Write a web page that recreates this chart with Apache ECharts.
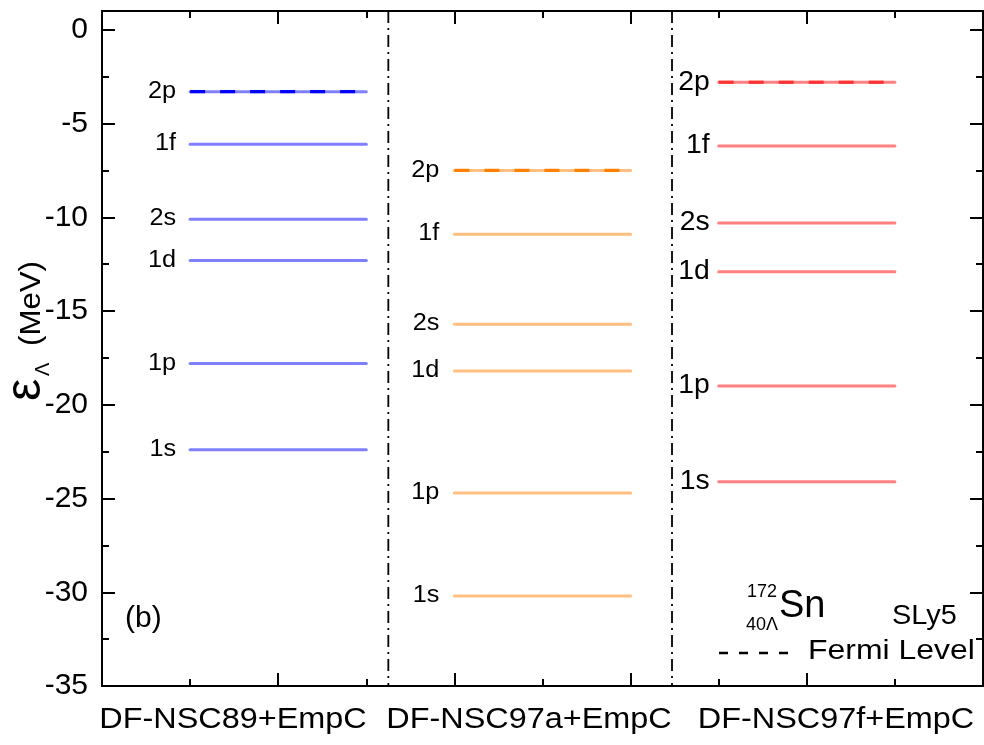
<!DOCTYPE html>
<html>
<head>
<meta charset="utf-8">
<script src="https://cdn.jsdelivr.net/npm/echarts@6/dist/echarts.min.js"></script>
<style>
html,body{margin:0;padding:0;background:#fff;}
#chart{width:984px;height:745px;}
</style>
</head>
<body>
<div id="chart"></div>
<script>
// ---- data ----
const models = ['DF-NSC89+EmpC', 'DF-NSC97a+EmpC', 'DF-NSC97f+EmpC'];
const levelNames = ['1s', '1p', '1d', '2s', '1f', '2p'];
const nsc89Levels = [-22.4, -17.8, -12.3, -10.1, -6.1, -3.3];
const nsc97aLevels = [-30.2, -24.7, -18.2, -15.7, -10.9, -7.5];
const nsc97fLevels = [-24.1, -19.0, -12.9, -10.3, -6.2, -2.8];
const fermiLevelName = '2p';
const columnSpans = [[1, 3], [4, 6], [7, 9]];
const dividerX = [3.25, 6.47];
const yMin = -35, yMax = 1, yMajor = 5, yMinor = 2.5;
const xMin = 0, xMax = 10, xMajor = 2, xMinor = 1;
const nucleusMass = '172', nucleusSub = '40Λ', nucleusSym = 'Sn';
const forceName = 'SLy5';
const legendText = 'Fermi Level';
const panelTag = '(b)';

const FONT = "'Liberation Sans', Arial, Helvetica, sans-serif";
const chart = echarts.init(document.getElementById('chart'), null, {renderer: 'canvas'});

function levelSeries(values, span, light, dark, fontSize, gap, scaleX) {
  return {
    type: 'custom',
    xAxisIndex: 0, yAxisIndex: 0,
    silent: true, clip: false, animation: false,
    data: values.map(v => [span[0], span[1], v]),
    encode: {x: [0, 1], y: 2},
    renderItem: function (params, api) {
      const e = api.value(2);
      const p0 = api.coord([api.value(0), e]);
      const p1 = api.coord([api.value(1), e]);
      const name = levelNames[params.dataIndex];
      const children = [{
        type: 'line',
        shape: {x1: p0[0], y1: p0[1], x2: p1[0], y2: p1[1]},
        style: {stroke: light, lineWidth: 3, lineCap: 'round'}
      }];
      if (name === fermiLevelName) {
        children.push({
          type: 'line',
          shape: {x1: p0[0], y1: p0[1], x2: p1[0], y2: p1[1]},
          style: {stroke: dark, lineWidth: 3.2, lineDash: [15, 15]}
        });
      }
      children.push({
        type: 'text',
        x: p0[0] - gap, y: p0[1],
        scaleX: scaleX,
        style: {
          text: name, fill: '#000',
          fontSize: fontSize, fontFamily: FONT,
          align: 'right', textAlign: 'right',
          verticalAlign: 'middle', textVerticalAlign: 'middle'
        }
      });
      return {type: 'group', children: children};
    }
  };
}

const dividerSeries = {
  type: 'custom',
  xAxisIndex: 0, yAxisIndex: 0,
  silent: true, clip: false, animation: false,
  data: dividerX.map(x => [x]),
  encode: {x: 0},
  renderItem: function (params, api) {
    const x = api.value(0);
    const a = api.coord([x, yMax]);
    const b = api.coord([x, yMin]);
    return {
      type: 'line',
      shape: {x1: a[0], y1: a[1], x2: b[0], y2: b[1]},
      style: {stroke: '#000', lineWidth: 1.8, lineDash: [12, 5, 2, 5]}
    };
  }
};

const axisLineStyle = {show: true, onZero: false, lineStyle: {color: '#000', width: 2}};
function tick(len) {
  return {show: true, inside: true, length: len, lineStyle: {color: '#000', width: 2}};
}
function yAx(pos, interval, len, labels) {
  return {
    type: 'value', position: pos, min: yMin, max: yMax, interval: interval,
    axisLine: axisLineStyle, axisTick: tick(len), splitLine: {show: false},
    axisLabel: labels ? {
      show: true, color: '#000', fontSize: 30, fontFamily: FONT, margin: 14,
      showMaxLabel: false,
      formatter: v => (v % yMajor === 0 ? String(v) : '')
    } : {show: false}
  };
}
function xAx(pos, interval, len) {
  return {
    type: 'value', position: pos, min: xMin, max: xMax, interval: interval,
    axisLine: axisLineStyle, axisTick: tick(len), splitLine: {show: false},
    axisLabel: {show: false}
  };
}

function txt(text, x, y, size, align, extra) {
  return Object.assign({
    type: 'text', x: x, y: y, silent: true,
    style: {
      text: text, fill: '#000', fontSize: size, fontFamily: FONT,
      align: align, textAlign: align,
      verticalAlign: 'middle', textVerticalAlign: 'middle'
    }
  }, extra || {});
}

const modelCenters = [233, 529, 836];
const graphics = [];
models.forEach((m, i) => graphics.push(txt(m, modelCenters[i], 719.6, 30, 'center', {scaleX: 1.08})));
// y axis name: epsilon_Lambda (MeV)
graphics.push(txt('ε', 26, 401, 50, 'left', {rotation: Math.PI / 2}));
graphics.push(txt('Λ', 43, 376, 20, 'left', {rotation: Math.PI / 2}));
graphics.push(txt('(MeV)', 32.1, 346, 30, 'left', {rotation: Math.PI / 2, scaleX: 1.04}));
// annotations
graphics.push(txt(panelTag, 125, 618.3, 30, 'left'));
graphics.push(txt(nucleusMass, 777, 591.7, 18, 'right'));
graphics.push(txt(nucleusSub, 778, 624.7, 18, 'right'));
graphics.push(txt(nucleusSym, 779, 606.7, 38, 'left'));
graphics.push(txt(forceName, 892, 616.6, 27, 'left', {scaleX: 1.07}));
graphics.push({
  type: 'line', silent: true,
  shape: {x1: 719, y1: 653, x2: 788, y2: 653},
  style: {stroke: '#000', lineWidth: 2.5, lineDash: [9, 11]}
});
graphics.push(txt(legendText, 808, 651, 28, 'left', {scaleX: 1.14}));

chart.setOption({
  animation: false,
  backgroundColor: '#fff',
  grid: {left: 102, right: 1, top: 11, bottom: 59, containLabel: false, outerBoundsMode: 'none'},
  xAxis: [
    xAx('bottom', xMajor, 13),
    xAx('bottom', xMinor, 7),
    xAx('top', xMajor, 13),
    xAx('top', xMinor, 7)
  ],
  yAxis: [
    yAx('left', yMajor, 13, true),
    yAx('left', yMinor, 7, false),
    yAx('right', yMajor, 13, false),
    yAx('right', yMinor, 7, false)
  ],
  series: [
    dividerSeries,
    levelSeries(nsc89Levels, columnSpans[0], '#8080ff', '#0000ff', 23, 14, 1.1),
    levelSeries(nsc97aLevels, columnSpans[1], '#ffbf80', '#ff8000', 23, 15, 1.1),
    levelSeries(nsc97fLevels, columnSpans[2], '#ff8080', '#ff3333', 27, 9, 1.05)
  ],
  graphic: graphics
});
</script>
</body>
</html>
